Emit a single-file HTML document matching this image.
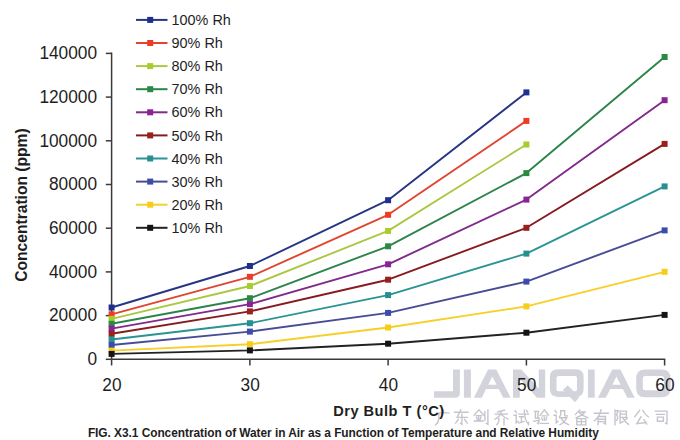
<!DOCTYPE html>
<html><head><meta charset="utf-8"><style>
html,body{margin:0;padding:0;background:#fff;}
body{width:680px;height:440px;overflow:hidden;}
svg{display:block;}
text{font-family:"Liberation Sans",sans-serif;fill:#1e1e1e;}
.yl{font-size:18px;text-anchor:end;}
.xl{font-size:18px;text-anchor:middle;}
.lg{font-size:15px;}
.ti{font-weight:bold;}
</style></head><body>
<svg width="680" height="440" viewBox="0 0 680 440">
<rect width="680" height="440" fill="#fff"/>
<g fill="#d3d3dc"><path d="M453,369.5 H459.9 V392.7 Q459.9,397.7 454.9,397.7 H434 V391.3 H453 Z"/><rect x="463.9" y="369.5" width="7" height="28.2"/><path fill-rule="evenodd" d="M473.9,397.7 L488.1,369.5 L496.3,369.5 L510.6,397.7 L503.2,397.7 L498.8,389.1 L486.1,389.1 L481.7,397.7 Z M488.3,384.7 L492.3,376.6 L496.6,384.7 Z"/><path d="M513,397.7 V369.5 H521.3 L538.8,388.5 V369.5 H545.2 V397.7 H537 L519.8,378.8 V397.7 Z"/><path fill-rule="evenodd" d="M558,369.3 H575.8 Q583.6,369.3 583.6,377.1 V389.1 Q583.6,396.9 575.8,396.9 H558 Q549.9,396.9 549.9,389.1 V377.1 Q549.9,369.3 558,369.3 Z M558.6,375.9 H575 Q577,375.9 577,377.9 V389.2 Q577,391.2 575,391.2 H558.6 Q556.5,391.2 556.5,389.2 V377.9 Q556.5,375.9 558.6,375.9 Z"/><path d="M567.7,385.3 L579.4,397 L575,402.2 L562.9,390.1 Z"/><rect x="587.9" y="369.5" width="6.8" height="28.2"/><path fill-rule="evenodd" d="M598.0,397.7 L612.2,369.5 L620.4,369.5 L634.7,397.7 L627.3,397.7 L622.9,389.1 L610.2,389.1 L605.8,397.7 Z M612.4,384.7 L616.4,376.6 L620.7,384.7 Z"/><path fill-rule="evenodd" d="M645.2,369.4 H661.6 Q670.6,369.4 670.6,378.4 V388.2 Q670.6,397.2 661.6,397.2 H645.2 Q636.2,397.2 636.2,388.2 V378.4 Q636.2,369.4 645.2,369.4 Z M645.3,376.1 H661.6 Q664.1,376.1 664.1,378.6 V387.8 Q664.1,390.3 661.6,390.3 H645.3 Q642.8,390.3 642.8,387.8 V378.6 Q642.8,376.1 645.3,376.1 Z"/></g>
<g fill="none" stroke="#c4c4cc" stroke-width="9.2" stroke-linecap="square" stroke-linejoin="miter">
<path transform="translate(433.80,409.9) scale(0.15)" d="M62,0 L66,12 M32,20 H100 M34,20 V58 Q32,84 12,100"/>
<path transform="translate(453.80,409.9) scale(0.15)" d="M6,16 H94 M46,0 L22,50 H88 M54,28 V96 L44,90 M30,64 L12,88 M72,64 L90,88"/>
<path transform="translate(473.80,409.9) scale(0.15)" d="M34,0 L2,36 M34,0 L66,34 M18,38 H52 M18,50 L24,64 M48,48 L42,64 M4,74 H62 M32,40 V74 M74,12 V70 M94,0 V96 L84,90"/>
<path transform="translate(493.80,409.9) scale(0.15)" d="M72,2 L26,14 M10,28 H90 M50,12 Q46,44 8,62 M50,30 Q68,50 94,60 M34,58 V74 Q32,88 20,98 M68,58 V100"/>
<path transform="translate(513.80,409.9) scale(0.15)" d="M8,6 L18,18 M2,36 H16 V86 L28,76 M34,28 H98 M70,2 Q72,70 98,96 V84 M84,4 L92,14 M38,46 H64 M51,46 V80 M34,86 L68,78"/>
<path transform="translate(533.80,409.9) scale(0.15)" d="M4,10 H30 L26,50 M12,10 L10,54 H36 Q36,80 30,92 L24,88 M0,76 L30,70 M70,0 L42,36 M70,0 L98,34 M56,40 H86 M52,54 L58,68 M70,52 L70,68 M86,52 L80,68 M44,90 H98"/>
<path transform="translate(553.80,409.9) scale(0.15)" d="M8,6 L18,18 M2,36 H16 V86 L28,76 M46,6 V28 Q46,40 38,46 M46,6 H72 V34 Q72,42 90,40 M40,52 H86 Q70,86 42,98 M52,62 Q70,90 98,98"/>
<path transform="translate(573.80,409.9) scale(0.15)" d="M40,0 L12,30 M30,14 H74 Q54,40 16,52 M40,22 Q62,42 94,52 M20,58 H80 V100 H20 Z M50,58 V100 M20,78 H80"/>
<path transform="translate(593.80,409.9) scale(0.15)" d="M4,22 H96 M48,0 Q40,44 4,72 M28,44 V100 M28,44 H78 V94 L68,90 M28,62 H78 M28,78 H78"/>
<path transform="translate(613.80,409.9) scale(0.15)" d="M8,2 V100 M8,6 H30 L18,32 Q34,50 18,70 M42,8 H84 V50 H42 M42,8 V88 M42,28 H84 M42,88 L62,78 M60,52 Q72,80 98,96 M90,54 L76,66"/>
<path transform="translate(633.80,409.9) scale(0.15)" d="M38,4 L6,46 M60,4 Q74,30 96,46 M48,46 L20,92 L82,84 M68,66 L86,94"/>
<path transform="translate(653.80,409.9) scale(0.15)" d="M10,8 H88 V92 L78,88 M18,30 H70 M24,48 H64 V76 H24 Z"/>
</g>
<line x1="111.6" y1="52.6" x2="111.6" y2="359.3" stroke="#3a3a3a" stroke-width="1.5"/>
<line x1="111.6" y1="359.3" x2="665.3" y2="359.3" stroke="#3a3a3a" stroke-width="1.5"/>
<line x1="105.8" y1="359.3" x2="111.6" y2="359.3" stroke="#3a3a3a" stroke-width="1.5"/>
<text transform="translate(97,365.1) scale(0.96,1)" class="yl">0</text>
<line x1="105.8" y1="315.6" x2="111.6" y2="315.6" stroke="#3a3a3a" stroke-width="1.5"/>
<text transform="translate(97,321.4) scale(0.96,1)" class="yl">20000</text>
<line x1="105.8" y1="271.9" x2="111.6" y2="271.9" stroke="#3a3a3a" stroke-width="1.5"/>
<text transform="translate(97,277.7) scale(0.96,1)" class="yl">40000</text>
<line x1="105.8" y1="228.2" x2="111.6" y2="228.2" stroke="#3a3a3a" stroke-width="1.5"/>
<text transform="translate(97,234.0) scale(0.96,1)" class="yl">60000</text>
<line x1="105.8" y1="184.5" x2="111.6" y2="184.5" stroke="#3a3a3a" stroke-width="1.5"/>
<text transform="translate(97,190.3) scale(0.96,1)" class="yl">80000</text>
<line x1="105.8" y1="140.8" x2="111.6" y2="140.8" stroke="#3a3a3a" stroke-width="1.5"/>
<text transform="translate(97,146.6) scale(0.96,1)" class="yl">100000</text>
<line x1="105.8" y1="97.1" x2="111.6" y2="97.1" stroke="#3a3a3a" stroke-width="1.5"/>
<text transform="translate(97,102.9) scale(0.96,1)" class="yl">120000</text>
<line x1="105.8" y1="53.4" x2="111.6" y2="53.4" stroke="#3a3a3a" stroke-width="1.5"/>
<text transform="translate(97,59.2) scale(0.96,1)" class="yl">140000</text>
<line x1="111.6" y1="359.3" x2="111.6" y2="365.5" stroke="#3a3a3a" stroke-width="1.5"/>
<text transform="translate(111.9,390.6) scale(0.96,1)" class="xl">20</text>
<line x1="249.9" y1="359.3" x2="249.9" y2="365.5" stroke="#3a3a3a" stroke-width="1.5"/>
<text transform="translate(250.2,390.6) scale(0.96,1)" class="xl">30</text>
<line x1="388.1" y1="359.3" x2="388.1" y2="365.5" stroke="#3a3a3a" stroke-width="1.5"/>
<text transform="translate(388.4,390.6) scale(0.96,1)" class="xl">40</text>
<line x1="526.4" y1="359.3" x2="526.4" y2="365.5" stroke="#3a3a3a" stroke-width="1.5"/>
<text transform="translate(526.7,390.6) scale(0.96,1)" class="xl">50</text>
<line x1="664.6" y1="359.3" x2="664.6" y2="365.5" stroke="#3a3a3a" stroke-width="1.5"/>
<text transform="translate(664.9,390.6) scale(0.96,1)" class="xl">60</text>
<polyline points="111.6,307.5 249.9,266.0 388.1,200.2 526.4,92.4" fill="none" stroke="#283583" stroke-width="1.9" stroke-linejoin="round"/>
<polyline points="111.6,314.3 249.9,276.8 388.1,214.8 526.4,120.9" fill="none" stroke="#e0452f" stroke-width="1.9" stroke-linejoin="round"/>
<polyline points="111.6,318.8 249.9,286.0 388.1,230.9 526.4,144.5" fill="none" stroke="#abc842" stroke-width="1.9" stroke-linejoin="round"/>
<polyline points="111.6,323.8 249.9,298.2 388.1,246.3 526.4,173.1 664.6,57.0" fill="none" stroke="#2d844a" stroke-width="1.9" stroke-linejoin="round"/>
<polyline points="111.6,328.6 249.9,304.1 388.1,264.3 526.4,199.6 664.6,100.2" fill="none" stroke="#82298c" stroke-width="1.9" stroke-linejoin="round"/>
<polyline points="111.6,333.8 249.9,311.4 388.1,279.7 526.4,227.8 664.6,143.9" fill="none" stroke="#861c20" stroke-width="1.9" stroke-linejoin="round"/>
<polyline points="111.6,339.5 249.9,323.2 388.1,295.1 526.4,253.6 664.6,186.4" fill="none" stroke="#2a9494" stroke-width="1.9" stroke-linejoin="round"/>
<polyline points="111.6,345.0 249.9,331.6 388.1,312.9 526.4,281.6 664.6,230.4" fill="none" stroke="#474d94" stroke-width="1.9" stroke-linejoin="round"/>
<polyline points="111.6,350.6 249.9,344.2 388.1,327.5 526.4,306.4 664.6,271.8" fill="none" stroke="#f6d02a" stroke-width="1.9" stroke-linejoin="round"/>
<polyline points="111.6,353.9 249.9,350.4 388.1,343.7 526.4,332.7 664.6,314.9" fill="none" stroke="#222222" stroke-width="1.9" stroke-linejoin="round"/>
<rect x="108.6" y="304.5" width="6" height="6" fill="#1f2f8f"/>
<rect x="246.9" y="263.0" width="6" height="6" fill="#1f2f8f"/>
<rect x="385.1" y="197.2" width="6" height="6" fill="#1f2f8f"/>
<rect x="523.4" y="89.4" width="6" height="6" fill="#1f2f8f"/>
<rect x="108.6" y="311.3" width="6" height="6" fill="#ee3b24"/>
<rect x="246.9" y="273.8" width="6" height="6" fill="#ee3b24"/>
<rect x="385.1" y="211.8" width="6" height="6" fill="#ee3b24"/>
<rect x="523.4" y="117.9" width="6" height="6" fill="#ee3b24"/>
<rect x="108.6" y="315.8" width="6" height="6" fill="#a6cc2e"/>
<rect x="246.9" y="283.0" width="6" height="6" fill="#a6cc2e"/>
<rect x="385.1" y="227.9" width="6" height="6" fill="#a6cc2e"/>
<rect x="523.4" y="141.5" width="6" height="6" fill="#a6cc2e"/>
<rect x="108.6" y="320.8" width="6" height="6" fill="#2a8a44"/>
<rect x="246.9" y="295.2" width="6" height="6" fill="#2a8a44"/>
<rect x="385.1" y="243.3" width="6" height="6" fill="#2a8a44"/>
<rect x="523.4" y="170.1" width="6" height="6" fill="#2a8a44"/>
<rect x="661.6" y="54.0" width="6" height="6" fill="#2a8a44"/>
<rect x="108.6" y="325.6" width="6" height="6" fill="#8a2496"/>
<rect x="246.9" y="301.1" width="6" height="6" fill="#8a2496"/>
<rect x="385.1" y="261.3" width="6" height="6" fill="#8a2496"/>
<rect x="523.4" y="196.6" width="6" height="6" fill="#8a2496"/>
<rect x="661.6" y="97.2" width="6" height="6" fill="#8a2496"/>
<rect x="108.6" y="330.8" width="6" height="6" fill="#98201f"/>
<rect x="246.9" y="308.4" width="6" height="6" fill="#98201f"/>
<rect x="385.1" y="276.7" width="6" height="6" fill="#98201f"/>
<rect x="523.4" y="224.8" width="6" height="6" fill="#98201f"/>
<rect x="661.6" y="140.9" width="6" height="6" fill="#98201f"/>
<rect x="108.6" y="336.5" width="6" height="6" fill="#269090"/>
<rect x="246.9" y="320.2" width="6" height="6" fill="#269090"/>
<rect x="385.1" y="292.1" width="6" height="6" fill="#269090"/>
<rect x="523.4" y="250.6" width="6" height="6" fill="#269090"/>
<rect x="661.6" y="183.4" width="6" height="6" fill="#269090"/>
<rect x="108.6" y="342.0" width="6" height="6" fill="#3c4cac"/>
<rect x="246.9" y="328.6" width="6" height="6" fill="#3c4cac"/>
<rect x="385.1" y="309.9" width="6" height="6" fill="#3c4cac"/>
<rect x="523.4" y="278.6" width="6" height="6" fill="#3c4cac"/>
<rect x="661.6" y="227.4" width="6" height="6" fill="#3c4cac"/>
<rect x="108.6" y="347.6" width="6" height="6" fill="#f7cc1a"/>
<rect x="246.9" y="341.2" width="6" height="6" fill="#f7cc1a"/>
<rect x="385.1" y="324.5" width="6" height="6" fill="#f7cc1a"/>
<rect x="523.4" y="303.4" width="6" height="6" fill="#f7cc1a"/>
<rect x="661.6" y="268.8" width="6" height="6" fill="#f7cc1a"/>
<rect x="108.6" y="350.9" width="6" height="6" fill="#151515"/>
<rect x="246.9" y="347.4" width="6" height="6" fill="#151515"/>
<rect x="385.1" y="340.7" width="6" height="6" fill="#151515"/>
<rect x="523.4" y="329.7" width="6" height="6" fill="#151515"/>
<rect x="661.6" y="311.9" width="6" height="6" fill="#151515"/>
<line x1="136" y1="19.9" x2="167.5" y2="19.9" stroke="#283583" stroke-width="2"/>
<rect x="147.2" y="16.9" width="6" height="6" fill="#1f2f8f"/>
<text transform="translate(171.6,25.0) scale(0.96,1)" class="lg">100% Rh</text>
<line x1="136" y1="43.0" x2="167.5" y2="43.0" stroke="#e0452f" stroke-width="2"/>
<rect x="147.2" y="40.0" width="6" height="6" fill="#ee3b24"/>
<text transform="translate(171.6,48.1) scale(0.96,1)" class="lg">90% Rh</text>
<line x1="136" y1="66.1" x2="167.5" y2="66.1" stroke="#abc842" stroke-width="2"/>
<rect x="147.2" y="63.1" width="6" height="6" fill="#a6cc2e"/>
<text transform="translate(171.6,71.2) scale(0.96,1)" class="lg">80% Rh</text>
<line x1="136" y1="89.2" x2="167.5" y2="89.2" stroke="#2d844a" stroke-width="2"/>
<rect x="147.2" y="86.2" width="6" height="6" fill="#2a8a44"/>
<text transform="translate(171.6,94.3) scale(0.96,1)" class="lg">70% Rh</text>
<line x1="136" y1="112.3" x2="167.5" y2="112.3" stroke="#82298c" stroke-width="2"/>
<rect x="147.2" y="109.3" width="6" height="6" fill="#8a2496"/>
<text transform="translate(171.6,117.4) scale(0.96,1)" class="lg">60% Rh</text>
<line x1="136" y1="135.4" x2="167.5" y2="135.4" stroke="#861c20" stroke-width="2"/>
<rect x="147.2" y="132.4" width="6" height="6" fill="#98201f"/>
<text transform="translate(171.6,140.5) scale(0.96,1)" class="lg">50% Rh</text>
<line x1="136" y1="158.5" x2="167.5" y2="158.5" stroke="#2a9494" stroke-width="2"/>
<rect x="147.2" y="155.5" width="6" height="6" fill="#269090"/>
<text transform="translate(171.6,163.6) scale(0.96,1)" class="lg">40% Rh</text>
<line x1="136" y1="181.6" x2="167.5" y2="181.6" stroke="#474d94" stroke-width="2"/>
<rect x="147.2" y="178.6" width="6" height="6" fill="#3c4cac"/>
<text transform="translate(171.6,186.7) scale(0.96,1)" class="lg">30% Rh</text>
<line x1="136" y1="204.7" x2="167.5" y2="204.7" stroke="#f6d02a" stroke-width="2"/>
<rect x="147.2" y="201.7" width="6" height="6" fill="#f7cc1a"/>
<text transform="translate(171.6,209.8) scale(0.96,1)" class="lg">20% Rh</text>
<line x1="136" y1="227.8" x2="167.5" y2="227.8" stroke="#222222" stroke-width="2"/>
<rect x="147.2" y="224.8" width="6" height="6" fill="#151515"/>
<text transform="translate(171.6,232.9) scale(0.96,1)" class="lg">10% Rh</text>
<text class="ti" transform="translate(27.3,281.7) rotate(-90)" font-size="15.6">Concentration (ppm)</text>
<text class="ti" x="333.2" y="415.6" font-size="14.6" letter-spacing="0.5">Dry Bulb T (°C)</text>
<text class="ti" x="87.9" y="436.6" font-size="11.9" textLength="511" lengthAdjust="spacing">FIG. X3.1 Concentration of Water in Air as a Function of Temperature and Relative Humidity</text>
</svg>
</body></html>
